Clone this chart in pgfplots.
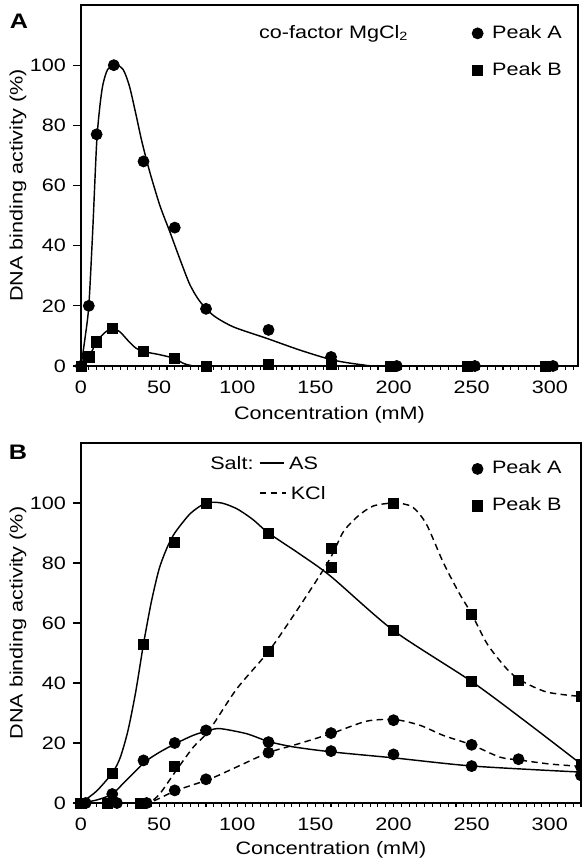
\documentclass[border=0pt]{standalone}
\usepackage{pgfplots}
\pgfplotsset{compat=1.18}
\usepackage{fontspec}
\setmainfont{Liberation Sans}[FakeStretch=1.2]

\pgfplotsset{
  panel/.style={
    scale only axis,
    xmin=0, ymin=0, ymax=120,
    axis line style={line width=0.8pt},
    tick align=outside, tick pos=left,
    xtick={0,50,...,300},
    minor xtick={0,5,...,320},
    ytick={0,20,...,100},
    major x tick style={draw=none},
    major tick length=4pt, minor tick length=1.8pt,
    every tick/.style={line width=0.55pt, black},
    /pgf/number format/assume math mode=true,
    xticklabel={\pgfmathprintnumber{\tick}},
    yticklabel={\pgfmathprintnumber{\tick}},
    tick label style={font=\fontsize{9}{10}\selectfont},
    label style={font=\fontsize{9}{11}\selectfont},
    xlabel={Concentration (mM)},
    ylabel={DNA binding activity (\%)},
    clip=false,
    legend style={draw=none, fill=none, font=\fontsize{9}{11}\selectfont,
      row sep=6.5pt, column sep=2.5pt, anchor=north west, inner sep=0pt},
    legend cell align=left,
    legend image code/.code={\draw[#1] plot coordinates {(0.1cm,0cm)};},
  },
  fit/.style={line width=0.72pt, black, no marks, smooth, tension=0.45},
  kcl/.style={fit, dash pattern=on 3.2pt off 2.2pt},
  dotA/.style={only marks, mark=*, mark size=2.75pt, black},
  dotB/.style={only marks, mark=square*, mark size=2.55pt, black},
}

\begin{document}
\begin{tikzpicture}
\path[use as bounding box] (0pt,0pt) rectangle (291pt,-430.5pt);

% ---- A: co-factor MgCl2
\begin{axis}[panel,
  at={(40.5pt,-183pt)}, anchor=south west,
  width=248.5pt, height=180.5pt, xmax=318,
  xlabel style={at={(axis description cs:0.5,-0.135)}, anchor=center},
  ylabel style={at={(axis description cs:-0.1268,0.5)}, anchor=center},
  legend style={at={(axis cs:250,114.7)}},
]
\addlegendimage{dotA}\addlegendentry{Peak A}
\addlegendimage{dotB}\addlegendentry{Peak B}
% fitted curves
\addplot[fit] coordinates {(0,0) (2.5,9) (5,20) (7.5,45) (10,74) (12,86) (14,93.5) (17,98.5) (22,100.2) (27,98.5) (31,93) (35,84) (39,74.5) (44,64.5) (50.5,53.3) (57,44.4) (63.3,35.5) (69.7,27) (76,21.5) (84.7,16.8) (97.5,13) (118.8,9.2) (140,5.3) (161,2) (180,0.4) (195,0) (300,0)};
\addplot[fit] coordinates {(0,0) (5,3) (10,8) (15,11) (20,12.5) (25,11.3) (30,8.5) (35,6) (40,4.8) (50,3.8) (60,2.5) (65,1) (70,0.2) (78,0) (300,0)};
% data
\addplot[dotA] coordinates {(0,0) (5,20) (10,77) (21,100) (40,68) (60,46) (80,19) (120,12) (160,3) (202,0) (252,0) (302,0)};
\addplot[dotB] coordinates {(0,0) (5,3) (10,8) (20,12.5) (40,4.8) (60,2.5) (80,0) (120,0.5) (160,0.5) (198,0) (247,0) (297,0)};
\node[font=\fontsize{9}{11}\selectfont, anchor=west] at (axis cs:109.4,110.5) {co-factor MgCl\textsubscript{2}};
\node[font=\bfseries\fontsize{10.5}{12}\selectfont] at (axis description cs:-0.1247,0.955) {A};
\end{axis}

% ---- B: salts
\begin{axis}[panel,
  at={(40.5pt,-401.5pt)}, anchor=south west,
  width=250pt, height=180pt, xmax=320,
  xlabel style={at={(axis description cs:0.5,-0.1306)}, anchor=center},
  ylabel style={at={(axis description cs:-0.126,0.5)}, anchor=center},
  legend style={at={(axis cs:250,115.5)}},
]
\addlegendimage{dotA}\addlegendentry{Peak A}
\addlegendimage{dotB}\addlegendentry{Peak B}
% AS, solid
\addplot[fit] coordinates {(0,0) (10,4) (20,10) (25,15) (30,24) (35,37) (40,53) (45,67) (50,78) (55,85) (60,90) (70,96.5) (80,100) (90,100) (100,98) (110,94.5) (120,90) (140,83) (160,75.5) (200,57.5) (250,40.5) (285,27) (320,13)};
\addplot[fit] coordinates {(0,0) (10,1) (20,3) (29,7.6) (41,13.7) (50.5,17) (60.5,19.8) (72,22.6) (82,24.2) (89,24.8) (106,23.1) (120,20.5) (136,18.7) (161,17) (201,15) (251,12.3) (320,10.3)};
% KCl, dashed
\addplot[kcl] coordinates {(40,0) (44,0.2) (50.5,3.1) (61,10.9) (72,18.7) (82,24.2) (99.6,38) (120,50.5) (136,62.5) (153,76) (161,83) (168,90.5) (177,95.5) (187,99) (201,100) (212,98.7) (221,93) (232,80) (242,70) (250,63) (260,53) (272,45) (281,41) (298,37) (320,35.5)};
\addplot[kcl] coordinates {(40,0) (44,0.2) (50,1.5) (61,4.2) (82,7.9) (99.6,12) (120,16.8) (139.6,19.8) (161,23.3) (183,27.3) (201,27.8) (217,25.9) (232,22.5) (250,19.4) (268,15.3) (281,14.3) (300,13) (320,12.2)};
% data
\addplot[dotB] coordinates {(0,0) (20,10) (40,53) (60,87) (80,100) (120,90) (200,57.5) (250,40.5) (320,13)};
\addplot[dotB] coordinates {(17,0) (38,0) (60,12.3) (120,50.5) (160,85) (160,78.5) (200,100) (250,63) (280,41) (320,35.5)};
\addplot[dotA] coordinates {(3,0) (20,3) (40,14.2) (60,20) (80,24.2) (120,20.3) (160,17.3) (200,16.2) (250,12.3) (320,9.2)};
\addplot[dotA] coordinates {(23,0) (42,0) (60,4.2) (80,7.9) (120,16.8) (160,23.3) (200,27.6) (250,19.4) (280,14.6) (320,12)};
% salt key
\node[font=\fontsize{9}{11}\selectfont, anchor=west, inner sep=0pt] at (axis cs:82.5,113.3) {Salt:};
\draw[line width=0.72pt] (axis cs:114.5,113.3) -- (axis cs:130,113.3);
\node[font=\fontsize{9}{11}\selectfont, anchor=west, inner sep=0pt] at (axis cs:133,113.3) {AS};
\draw[line width=0.72pt, dash pattern=on 3.2pt off 2.2pt] (axis cs:114.5,103.3) -- (axis cs:131,103.3);
\node[font=\fontsize{9}{11}\selectfont, anchor=west, inner sep=0pt] at (axis cs:134,103.3) {KCl};
\node[font=\bfseries\fontsize{10.5}{12}\selectfont] at (axis description cs:-0.126,0.975) {B};
\end{axis}
\end{tikzpicture}
\end{document}
